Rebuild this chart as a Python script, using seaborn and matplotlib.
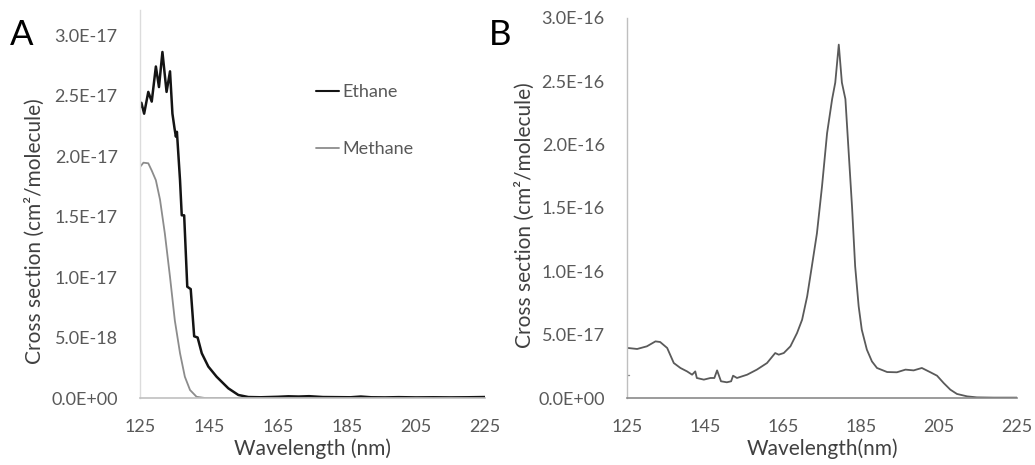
import matplotlib
matplotlib.use("Agg")
import matplotlib.pyplot as plt
import seaborn as sns
import numpy as np

# ---------------- data ----------------
# Panel A: ethane and methane cross sections (units of 1e-18 cm^2/molecule)
ethane_wl = [125.0, 125.4, 126.2, 127.4, 128.4, 129.6, 130.5, 131.5, 132.7, 133.7,
             134.4, 135.0, 135.4, 135.7, 136.6, 137.1, 137.8, 138.7, 139.7, 140.7,
             141.7, 142.9, 144.8, 147.2, 150.6, 153.5, 156.4, 160.0, 165.0, 168.0,
             171.0, 174.0, 178.0, 182.0, 186.0, 189.0, 192.0, 196.0, 200.0, 205.0,
             210.0, 215.0, 220.0, 225.0]
ethane_val = [24.0, 24.4, 23.5, 25.3, 24.5, 27.4, 25.7, 28.6, 25.3, 27.0,
              23.5, 22.3, 21.6, 22.0, 18.0, 15.1, 15.1, 9.2, 9.0, 5.1,
              5.0, 3.7, 2.6, 1.76, 0.8, 0.25, 0.08, 0.06, 0.1, 0.14,
              0.12, 0.15, 0.08, 0.07, 0.06, 0.12, 0.06, 0.05, 0.07, 0.05,
              0.06, 0.05, 0.06, 0.08]
methane_wl = [125.0, 126.0, 127.4, 128.4, 129.6, 130.8, 132.2, 133.7, 135.1, 136.6,
              138.0, 139.5, 141.4, 143.8, 150.0, 170.0, 200.0, 225.0]
methane_val = [19.1, 19.45, 19.4, 18.8, 18.0, 16.4, 13.6, 10.0, 6.4, 3.7,
               1.76, 0.66, 0.1, 0.0, 0.0, 0.0, 0.0, 0.0]

# Panel B: cross section (units of 1e-17 cm^2/molecule)
b_wl = [125.2, 127.6, 130.1, 132.3, 133.5, 135.3, 137.0, 138.7, 140.4, 141.7,
        142.5, 142.9, 144.7, 146.4, 147.4, 148.1, 149.1, 150.6, 151.7, 152.2,
        153.2, 155.8, 158.3, 160.9, 163.0, 163.9, 165.2, 166.9, 168.6, 169.9,
        171.2, 172.4, 173.7, 175.0, 176.3, 177.6, 178.4, 179.3, 180.1, 181.0,
        181.8, 182.7, 183.5, 184.4, 185.2, 186.5, 187.8, 189.1, 191.7, 194.2,
        196.4, 198.5, 200.6, 202.8, 204.5, 206.2, 207.9, 209.6, 212.2, 214.7,
        219.0, 225.0]
b_val = [3.95, 3.87, 4.08, 4.47, 4.42, 3.95, 2.76, 2.37, 2.10, 1.84,
         2.10, 1.58, 1.45, 1.58, 1.58, 2.18, 1.32, 1.24, 1.32, 1.76,
         1.58, 1.84, 2.24, 2.76, 3.55, 3.42, 3.55, 4.08, 5.13, 6.18,
         8.03, 10.4, 13.0, 16.7, 20.9, 23.6, 24.9, 27.9, 24.9, 23.6,
         19.6, 15.1, 10.4, 7.24, 5.39, 3.82, 2.89, 2.37, 2.05, 2.03,
         2.24, 2.18, 2.37, 2.03, 1.76, 1.18, 0.66, 0.32, 0.13, 0.05,
         0.03, 0.03]
b_stray_wl = [125.3, 125.5]
b_stray_val = [1.84, 1.84]

xticks = [125, 145, 165, 185, 205, 225]
a_yticks = [0, 5e-18, 1e-17, 1.5e-17, 2e-17, 2.5e-17, 3e-17]
a_ylabels = ["0.0E+00", "5.0E-18", "1.0E-17", "1.5E-17", "2.0E-17", "2.5E-17", "3.0E-17"]
b_yticks = [0, 5e-17, 1e-16, 1.5e-16, 2e-16, 2.5e-16, 3e-16]
b_ylabels = ["0.0E+00", "5.0E-17", "1.0E-16", "1.5E-16", "2.0E-16", "2.5E-16", "3.0E-16"]

# ---------------- style ----------------
sns.set_theme(style="white")
plt.rcParams['font.family'] = ['Lato', 'DejaVu Sans']

TICK = "#595959"
LAB = "#404040"

fig = plt.figure(figsize=(10.35, 4.65), dpi=100)
axA = fig.add_axes([140/1035, 67/465, 345/1035, 388/465])
axB = fig.add_axes([627/1035, 67/465, 390/1035, 380/465])

# Panel A
sns.lineplot(x=np.array(methane_wl), y=np.array(methane_val) * 1e-18, ax=axA,
             color="#8c8c8c", lw=1.3, label="Methane", estimator=None, sort=False)
sns.lineplot(x=np.array(ethane_wl), y=np.array(ethane_val) * 1e-18, ax=axA,
             color="#141414", lw=1.8, label="Ethane", estimator=None, sort=False)
axA.set_xlim(125, 225)
axA.set_ylim(0, 3.207e-17)
axA.set_yticks(a_yticks)
axA.set_yticklabels(a_ylabels)

h, l = axA.get_legend_handles_labels()
leg = axA.legend([h[1], h[0]], [l[1], l[0]], loc="upper left",
                 bbox_to_anchor=(0.51, 0.808), frameon=False, fontsize=13,
                 handlelength=1.3, handletextpad=0.15, labelspacing=2.25,
                 borderpad=0, borderaxespad=0)
for t in leg.get_texts():
    t.set_color(TICK)
leg.get_lines()[0].set_linewidth(1.5)

# Panel B
sns.lineplot(x=np.array(b_wl), y=np.array(b_val) * 1e-17, ax=axB,
             color="#5a5a5a", lw=1.3, estimator=None, sort=False)
axB.plot(np.array(b_stray_wl), np.array(b_stray_val) * 1e-17, color="#8c8c8c", lw=1.0)
axB.set_xlim(125, 225)
axB.set_ylim(0, 3.0e-16)
axB.set_yticks(b_yticks)
axB.set_yticklabels(b_ylabels)

for ax, lab, lcol, bcol in [(axA, "Wavelength (nm)", "#dcdcdc", "#c0c0c0"),
                            (axB, "Wavelength(nm)", "#bfbfbf", "#8a8a8a")]:
    ax.set_xticks(xticks)
    ax.set_xticklabels([str(v) for v in xticks])
    ax.tick_params(axis='both', length=0, labelsize=13, labelcolor=TICK)
    ax.tick_params(axis='y', pad=16)
    ax.tick_params(axis='x', pad=15)
    for s in ["top", "right"]:
        ax.spines[s].set_visible(False)
    ax.spines["left"].set_color(lcol)
    ax.spines["bottom"].set_color(bcol)
    ax.spines["left"].set_linewidth(1.0)
    ax.spines["bottom"].set_linewidth(1.2)
    ax.set_xlabel(lab, fontsize=15, color=LAB)
    ax.set_ylabel("Cross section (cm²/molecule)", fontsize=15, color=LAB)
    ax.set_facecolor("white")

axA.xaxis.set_label_coords(0.5, -0.105)
axB.xaxis.set_label_coords(0.5, -0.107)
axA.yaxis.set_label_coords(-0.275, 0.43)
axB.yaxis.set_label_coords(-0.235, 0.48)

fig.text(10/1035, 1 - 45/465, "A", fontsize=25, color="black")
fig.text(489/1035, 1 - 45/465, "B", fontsize=25, color="black")

fig.savefig("out.png", dpi=100, facecolor="white")
